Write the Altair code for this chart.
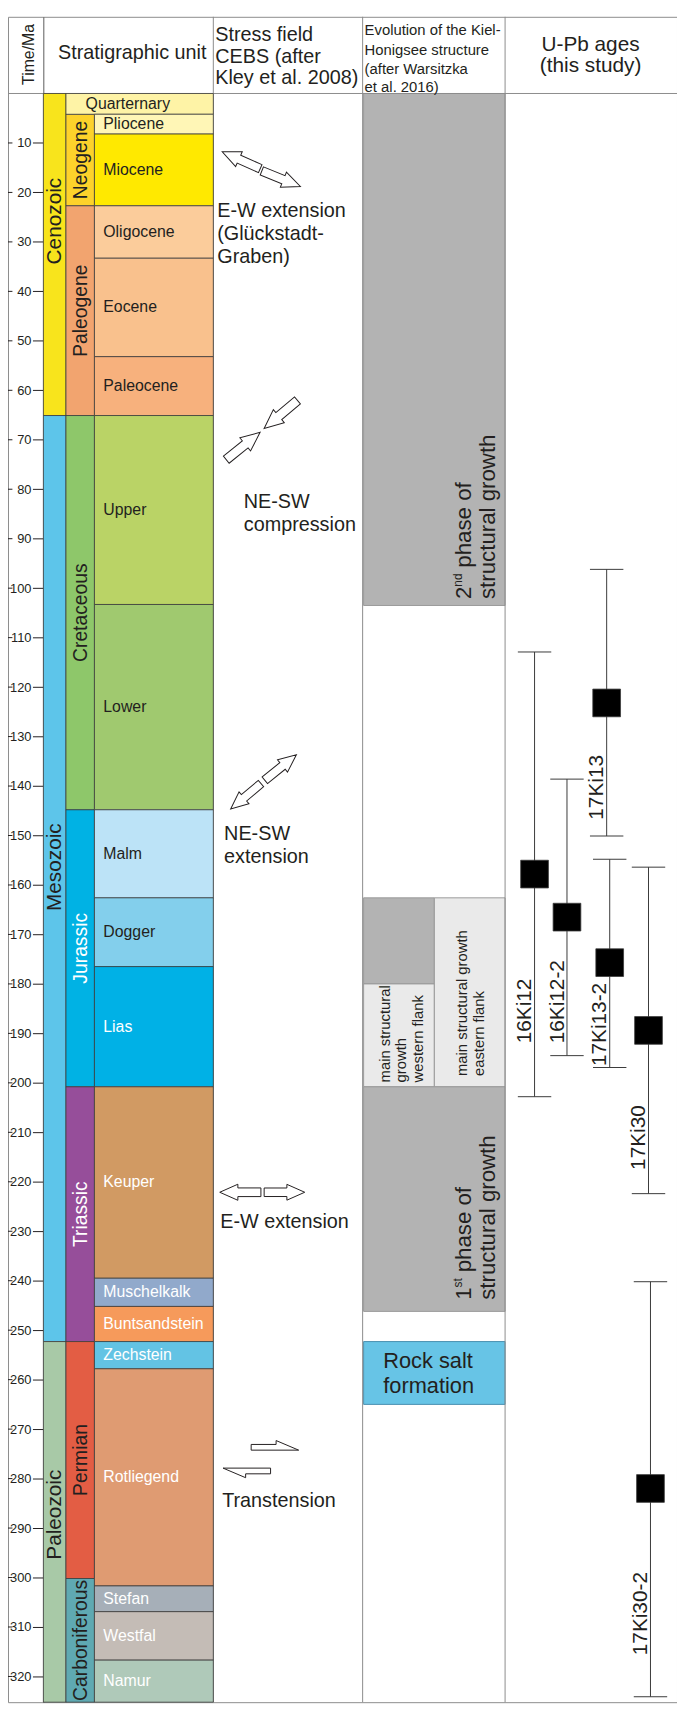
import altair as alt
import pandas as pd

# ---------------- data (ages in Ma, negative = before present) ----------------
tick_values = [-10 * i for i in range(1, 33)]

era_names = ["Cenozoic", "Mesozoic", "Paleozoic"]
era_top = [0.0, -65.1, -252.3]
era_base = [-65.1, -252.3, -325.2]
era_label_at = [-25.8, -156.4, -287.3]
era_colors = ["#F8E41C", "#5DC5EA", "#A8C9A7"]

period_names = ["Neogene", "Paleogene", "Cretaceous", "Jurassic", "Triassic", "Permian", "Carboniferous"]
period_top = [-4.2, -22.7, -65.1, -144.8, -200.8, -252.3, -300.2]
period_base = [-22.7, -65.1, -144.8, -200.8, -252.3, -300.2, -325.2]
period_colors = ["#FDD22B", "#F2A46F", "#8EC76A", "#00B2E4", "#964E9A", "#E35D44", "#5FA9B2"]
period_text_colors = ["#231F20", "#231F20", "#231F20", "#FFFFFF", "#FFFFFF", "#231F20", "#231F20"]

epoch_names = ["Quarternary", "Pliocene", "Miocene", "Oligocene", "Eocene", "Paleocene",
               "Upper", "Lower", "Malm", "Dogger", "Lias", "Keuper", "Muschelkalk",
               "Buntsandstein", "Zechstein", "Rotliegend", "Stefan", "Westfal", "Namur"]
epoch_top = [0.0, -4.2, -8.2, -22.7, -33.3, -53.2, -65.1, -103.3, -144.8, -162.6,
             -176.5, -200.8, -239.5, -245.2, -252.3, -257.8, -301.7, -306.9, -316.7]
epoch_base = epoch_top[1:] + [-325.2]
epoch_colors = ["#FEF3A6", "#FFF6B6", "#FFE900", "#FBCC9B", "#F9C18D", "#F7B17D",
                "#BAD366", "#A0C96F", "#BCE3F7", "#83CFEC", "#00B1E6", "#D19A63",
                "#91A9CB", "#F69A5B", "#63C3E4", "#DF9B72", "#A6AFB8", "#C4BCB6", "#AFC9B9"]
epoch_text_colors = ["#231F20"] * 10 + ["#FFFFFF"] * 9

evo_top = [0.0, -162.6, -180.0, -162.6, -200.8, -252.3]
evo_base = [-103.5, -180.0, -200.8, -200.8, -246.2, -265.0]
evo_fill = ["#B3B3B3", "#B3B3B3", "#EAEAEA", "#EAEAEA", "#B3B3B3", "#67C4E6"]
evo_edge = ["#9A9A9A", "#9A9A9A", "#9A9A9A", "#9A9A9A", "#9A9A9A", "#4A90B0"]

samples = ["16Ki12", "16Ki12-2", "17Ki13", "17Ki13-2", "17Ki30", "17Ki30-2"]
age = [-157.8, -166.5, -123.2, -175.7, -189.4, -282.0]
age_young = [-112.9, -138.6, -96.2, -154.8, -156.4, -240.2]
age_old = [-202.8, -194.5, -150.1, -196.9, -222.4, -324.1]
label_start = [-192.0, -192.0, -146.8, -196.6, -217.6, -315.7]

# ---------------- layout (figure units = pixels of the original figure) ----------------
FONT = "Liberation Sans"
INK = "#231F20"
FRAME = "#8C8C8C"
Y0_PX, PX_PER_MA = 80.6, 5.014
T_TOP, T_BOT = 15.5, -325.2


def t_of(ypx):
    return (Y0_PX - ypx) / PX_PER_MA


COL_ERA = (39, 62)
COL_PERIOD = (62, 91)
COL_EPOCH = (91, 212)
EVO_FULL = (365, 509)
EVO_W = (365, 437)
EVO_E = (437, 509)
evo_cols = [EVO_FULL, EVO_W, EVO_W, EVO_E, EVO_FULL, EVO_FULL]
sample_x = [539, 572, 612.4, 615.5, 655, 657]
CAP = 17

xscale = alt.Scale(domain=[3, 684], nice=False, zero=False)
yscale = alt.Scale(domain=[T_BOT, T_TOP], nice=False, zero=False)


def X():
    return alt.X("x:Q", scale=xscale, axis=None)


def Y():
    return alt.Y("t:Q", scale=yscale, axis=alt.Axis(
        values=tick_values, labelExpr="'' + abs(datum.value)", offset=-35.7,
        tickSize=11, labelPadding=1.5, labelFontSize=13, labelFont=FONT,
        labelColor=INK, tickColor=INK, domainColor="#5a5a5a", title=None,
        grid=False, labelOverlap=False))


# ---------------- frames ----------------
rect_rows = []
for n, a, b, c in zip(era_names, era_top, era_base, era_colors):
    rect_rows.append(dict(x=COL_ERA[0], x2=COL_ERA[1], t=a, t2=b, fill=c))
for n, a, b, c in zip(period_names, period_top, period_base, period_colors):
    rect_rows.append(dict(x=COL_PERIOD[0], x2=COL_PERIOD[1], t=a, t2=b, fill=c))
for n, a, b, c in zip(epoch_names, epoch_top, epoch_base, epoch_colors):
    x0 = COL_PERIOD[0] if n == "Quarternary" else COL_EPOCH[0]
    rect_rows.append(dict(x=x0, x2=COL_EPOCH[1], t=a, t2=b, fill=c))
strat_df = pd.DataFrame(rect_rows)

evo_df = pd.DataFrame([dict(x=c[0], x2=c[1], t=a, t2=b, fill=f, edge=e)
                       for c, a, b, f, e in zip(evo_cols, evo_top, evo_base, evo_fill, evo_edge)])

strat_layer = alt.Chart(strat_df).mark_rect(stroke="#3b3b3b", strokeWidth=0.8).encode(
    x=X(), x2="x2:Q", y=Y(), y2="t2:Q", fill=alt.Fill("fill:N", scale=None))
evo_layer = alt.Chart(evo_df).mark_rect(strokeWidth=1).encode(
    x=X(), x2="x2:Q", y=Y(), y2="t2:Q", fill=alt.Fill("fill:N", scale=None),
    stroke=alt.Stroke("edge:N", scale=None))

vsep_df = pd.DataFrame(dict(x=[212, 364, 509], t=[T_TOP] * 3, t2=[T_BOT] * 3))
vsep_layer = alt.Chart(vsep_df).mark_rule(color=FRAME, strokeWidth=1).encode(
    x=X(), y=Y(), y2="t2:Q")
hsep_df = pd.DataFrame(dict(x=[3], x2=[684], t=[0.0]))
hsep_layer = alt.Chart(hsep_df).mark_rule(color=FRAME, strokeWidth=1).encode(
    x=X(), x2="x2:Q", y=Y())

dash_df = pd.DataFrame(dict(x=[3] * len(tick_values), x2=[7.5] * len(tick_values), t=tick_values))
dash_layer = alt.Chart(dash_df).mark_rule(color=INK, strokeWidth=1).encode(
    x=X(), x2="x2:Q", y=Y())

# ---------------- texts ----------------
left_rows = []
center_rows = []
rot_rows = []  # rotated, anchored at start (bottom)

for n, a, c in zip(era_names, era_label_at, era_colors):
    center_rows.append(dict(text=n, x=51, t=a, fs=21, col=INK, angle=270))
for n, a, b, c in zip(period_names, period_top, period_base, period_text_colors):
    center_rows.append(dict(text=n, x=77, t=(a + b) / 2, fs=19.5, col=c, angle=270))
for n, a, b, c in zip(epoch_names, epoch_top, epoch_base, epoch_text_colors):
    left_rows.append(dict(text=n, x=82 if n == "Quarternary" else 100, t=(a + b) / 2,
                          fs=16, col=c, angle=0))

# header
center_rows += [
    dict(text="Time/Ma", x=24, t=t_of(41), fs=16, col=INK, angle=270),
    dict(text="Stratigraphic unit", x=129.5, t=t_of(40), fs=20, col=INK, angle=0),
    dict(text="U-Pb ages", x=596, t=t_of(31.7), fs=21, col=INK, angle=0),
    dict(text="(this study)", x=596, t=t_of(53.3), fs=21, col=INK, angle=0),
]
for txt, y in [("Stress field", 21.7), ("CEBS (after", 43.3), ("Kley et al. 2008)", 65)]:
    left_rows.append(dict(text=txt, x=214, t=t_of(y), fs=20, col=INK, angle=0))
for txt, y in [("Evolution of the Kiel-", 16.7), ("Honigsee structure", 36.7),
               ("(after Warsitzka", 55.7), ("et al. 2016)", 74)]:
    left_rows.append(dict(text=txt, x=366, t=t_of(y), fs=15, col=INK, angle=0))

# stress field
for txt, xx, y in [("E-W extension", 216, 200), ("(Glückstadt-", 216, 223.3), ("Graben)", 216, 246.7),
                   ("NE-SW", 243, 495), ("compression", 243, 518.3),
                   ("NE-SW", 223, 831.7), ("extension", 223, 855),
                   ("E-W extension", 219, 1225), ("Transtension", 221, 1507.7)]:
    left_rows.append(dict(text=txt, x=xx, t=t_of(y), fs=20, col=INK, angle=0))

# evolution
for txt, y in [("Rock salt", 1365), ("formation", 1390.7)]:
    left_rows.append(dict(text=txt, x=385, t=t_of(y), fs=22, col=INK, angle=0))
for txt, xx, y, fs in [("2", 467, 593, 22.5), ("nd", 461.5, 580.5, 12), ("phase of", 467, 561.2, 22.5),
                       ("structural growth", 492, 593, 22.5),
                       ("1", 467, 1303.3, 22.5), ("st", 461.5, 1290.8, 12), ("phase of", 467, 1275.5, 22.5),
                       ("structural growth", 492, 1303.3, 22.5),
                       ("main structural", 386.5, 1083, 15), ("growth", 403, 1083, 15),
                       ("western flank", 420, 1083, 15),
                       ("main structural growth", 465, 1076.5, 15), ("eastern flank", 482, 1076.5, 15)]:
    rot_rows.append(dict(text=txt, x=xx, t=t_of(y), fs=fs, col=INK, angle=270))

# sample labels
for s, sx, ls in zip(samples, sample_x, label_start):
    rot_rows.append(dict(text=s, x=sx - 9.5, t=ls, fs=21, col=INK, angle=270))


def text_layer(rows, align):
    return alt.Chart(pd.DataFrame(rows)).mark_text(align=align, baseline="middle", font=FONT).encode(
        x=X(), y=Y(), text="text:N", size=alt.Size("fs:Q", scale=None),
        color=alt.Color("col:N", scale=None), angle=alt.Angle("angle:Q", scale=None))


# ---------------- stress arrows ----------------
EXT = "M-1,-0.21L0.12,-0.21L0.12,-0.39L1,0L0.12,0.39L0.12,0.21L-1,0.21Z"
HALF = "M-1,-0.12L0.05,-0.12L0.05,-0.284L1,0.12L-1,0.12Z"
arrow_rows = [
    (240.4, 148.2, 204, 42, EXT), (281, 167, 22, 42, EXT),
    (280.7, 405.9, 140, 44, EXT), (242.4, 437.9, 321, 44, EXT),
    (245.1, 792.9, 140, 40, EXT), (280.5, 763.8, 321, 41, EXT),
    (239.5, 1194.3, 180, 41.6, EXT), (284.4, 1194.3, 0, 41, EXT),
    (274.7, 1452.8, 0, 48, HALF), (246.1, 1476.8, 180, 48, HALF),
]
arrow_df = pd.DataFrame([dict(x=a, t=t_of(b), angle=c, size=d * d, shape=e)
                         for a, b, c, d, e in arrow_rows])
arrow_layer = alt.Chart(arrow_df).mark_point(filled=True, fill="white", stroke=INK,
                                              strokeWidth=1, opacity=1).encode(
    x=X(), y=Y(), shape=alt.Shape("shape:N", scale=None),
    angle=alt.Angle("angle:Q", scale=None), size=alt.Size("size:Q", scale=None))

# ---------------- U-Pb ages ----------------
bar_df = pd.DataFrame(dict(x=sample_x, t=age_young, t2=age_old))
bar_layer = alt.Chart(bar_df).mark_rule(color="#3a3a3a", strokeWidth=1).encode(
    x=X(), y=Y(), y2="t2:Q")
cap_df = pd.DataFrame(dict(x=[v - CAP for v in sample_x] * 2,
                           x2=[v + CAP for v in sample_x] * 2,
                           t=age_young + age_old))
cap_layer = alt.Chart(cap_df).mark_rule(color="#3a3a3a", strokeWidth=1).encode(
    x=X(), x2="x2:Q", y=Y())
sq_df = pd.DataFrame(dict(x=sample_x, t=age, sample=samples))
sq_layer = alt.Chart(sq_df).mark_square(size=784, color="black", opacity=1,
                                        stroke="#3a3a3a", strokeWidth=0.8).encode(x=X(), y=Y())

chart = alt.layer(
    evo_layer, vsep_layer, hsep_layer, strat_layer, dash_layer,
    text_layer(center_rows, "center"), text_layer(left_rows, "left"), text_layer(rot_rows, "left"),
    arrow_layer, bar_layer, cap_layer, sq_layer,
).properties(
    width=676, height=1703, padding=0,
    autosize=alt.AutoSizeParams(type="none"),
).configure_view(stroke=FRAME, strokeWidth=1)

chart.save("out.html", embed_options={"renderer": "svg", "actions": False})
